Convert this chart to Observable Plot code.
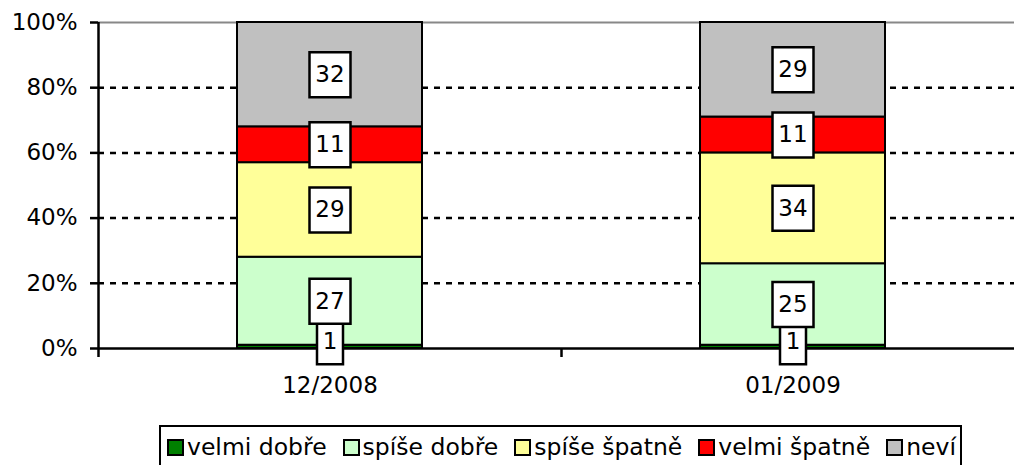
<!DOCTYPE html>
<html><head><meta charset="utf-8">
<script src="https://cdn.jsdelivr.net/npm/d3@7"></script>
<script src="https://cdn.jsdelivr.net/npm/@observablehq/plot@0.6"></script>
<style>
body{margin:0;background:#fff;font-family:"DejaVu Sans",Verdana,sans-serif;color:#000;}
#legend{margin-left:159px;margin-top:15px;width:803px;height:52px;box-sizing:border-box;border:2px solid #000;padding:9px 0 0 6px;font-size:23.5px;line-height:1;white-space:nowrap;}
.item{display:inline-block;margin-right:16px;}
.sw{display:inline-block;width:13px;height:13px;border:2px solid #000;margin-right:3px;vertical-align:-1px;}
</style></head>
<body>
<div id="chart"></div>
<div id="legend"></div>
<script>
const periods = ["12/2008", "01/2009"];
const categories = ["velmi dobře", "spíše dobře", "spíše špatně", "velmi špatně", "neví"];
const colors = ["#008000", "#ccffcc", "#ffff99", "#ff0000", "#c0c0c0"];
const values2008 = [1, 27, 29, 11, 32];
const values2009 = [1, 25, 34, 11, 29];
const yTicks = [0, 20, 40, 60, 80, 100];
const gridTicks = [20, 40, 60, 80];

const series = [values2008, values2009];
const rows = [];
periods.forEach((p, i) => {
  let acc = 0;
  categories.forEach((c, j) => {
    const v = series[i][j];
    rows.push({period: p, category: c, value: v, y1: acc, y2: acc + v, mid: acc + v / 2});
    acc += v;
  });
});
const small = rows.filter(d => String(d.value).length === 1);
const large = rows.filter(d => String(d.value).length > 1);

const boxSym = (w, h) => ({
  draw(ctx) {
    ctx.moveTo(-w / 2, -h / 2); ctx.lineTo(w / 2, -h / 2);
    ctx.lineTo(w / 2, h / 2); ctx.lineTo(-w / 2, h / 2); ctx.closePath();
  }
});
const half = 231.5;

const chart = Plot.plot({
  width: 1014,
  height: 410,
  marginLeft: 98,
  marginRight: 0,
  marginTop: 22,
  marginBottom: 62,
  style: {fontFamily: "DejaVu Sans, Verdana, sans-serif", fontSize: "23px", color: "#000", background: "#fff", overflow: "visible"},
  x: {domain: periods, range: [98, 1024], paddingInner: 0.6, paddingOuter: 0.3, align: 0.5, label: null},
  y: {domain: [0, 100], label: null},
  color: {domain: categories, range: colors},
  marks: [
    Plot.ruleY(gridTicks, {stroke: "#000", strokeWidth: 2.5, strokeDasharray: "6,6"}),
    Plot.ruleY([100], {stroke: "#888", strokeWidth: 2}),
    Plot.rectY(rows, {x: "period", y1: "y1", y2: "y2", fill: "category", stroke: "#000", strokeWidth: 2}),
    Plot.ruleY([0], {stroke: "#000", strokeWidth: 2.5}),
    Plot.ruleX([periods[0]], {x: d => d, dx: -half, y1: 0, y2: 100, stroke: "#000", strokeWidth: 2.5}),
    Plot.tickX([periods[0]], {x: d => d, dx: -half, insetTop: 326, insetBottom: -9, stroke: "#000", strokeWidth: 2.5}),
    Plot.tickX(periods, {x: d => d, dx: half, insetTop: 326, insetBottom: -9, stroke: "#000", strokeWidth: 2.5}),
    Plot.axisY({ticks: yTicks, tickFormat: d => d + "%", tickSize: 8, tickPadding: 13, strokeWidth: 2.5, fontSize: 23, label: null}),
    Plot.axisX({tickSize: 0, tickPadding: 28, fontSize: 23, label: null}),
    Plot.dot(small, {x: "period", y: "mid", dy: -5, symbol: boxSym(26, 45), fill: "#fff", stroke: "#000", strokeWidth: 2.5}),
    Plot.dot(large, {x: "period", y: "mid", symbol: boxSym(41, 45), fill: "#fff", stroke: "#000", strokeWidth: 2.5}),
    Plot.text(small, {x: "period", y: "mid", dy: -5, text: d => String(d.value), fontSize: 23, fill: "#000"}),
    Plot.text(large, {x: "period", y: "mid", text: d => String(d.value), fontSize: 23, fill: "#000"})
  ]
});
document.getElementById("chart").appendChild(chart);

const legend = document.getElementById("legend");
categories.forEach((c, i) => {
  const item = document.createElement("span");
  item.className = "item";
  const sw = document.createElement("span");
  sw.className = "sw";
  sw.style.background = colors[i];
  item.appendChild(sw);
  item.appendChild(document.createTextNode(c));
  legend.appendChild(item);
});
</script>
</body></html>
